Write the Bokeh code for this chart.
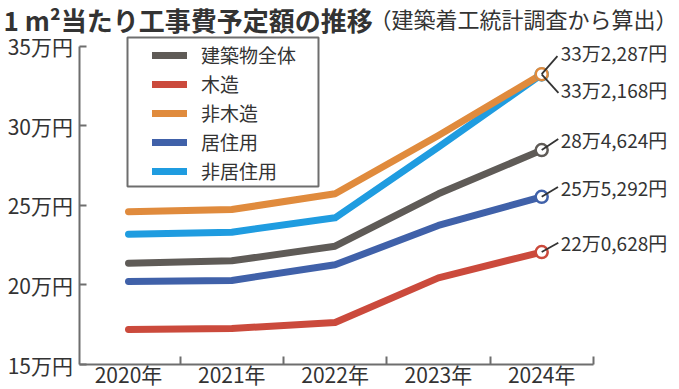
from bokeh.plotting import figure
from bokeh.models import Range1d, FixedTicker, Legend, LegendItem, Label, BoxAnnotation
from bokeh.embed import file_html
from bokeh.resources import INLINE
from bokeh.core.properties import value

# ---- data ----
years = ["2020年", "2021年", "2022年", "2023年", "2024年"]
series_names = ["建築物全体", "木造", "非木造", "居住用", "非居住用"]
zentai = [213600, 215100, 224300, 257200, 284624]
mokuzo = [172000, 172600, 176400, 204400, 220628]
hi_mokuzo = [245900, 247300, 257200, 293800, 332287]
kyoju = [202100, 202800, 212600, 237300, 255292]
hi_kyoju = [231800, 233100, 242100, 286500, 332168]
y_ticks = [150000, 200000, 250000, 300000, 350000]
y_tick_labels = ["15万円", "20万円", "25万円", "30万円", "35万円"]
title_text = "1 m²当たり工事費予定額の推移"
subtitle_text = "（建築着工統計調査から算出）"

# ---- style ----
FONT = "Noto Sans CJK JP"
TXT = "#333333"
AXC = "#6e6e6e"
colors = {"建築物全体": "#5f5b57", "木造": "#cb4a3c", "非木造": "#e08b3d",
          "居住用": "#4061a9", "非居住用": "#1f9ce0"}
values = {"建築物全体": zentai, "木造": mokuzo, "非木造": hi_mokuzo,
          "居住用": kyoju, "非居住用": hi_kyoju}
draw_order = ["木造", "居住用", "建築物全体", "非居住用", "非木造"]
lab_dy = {"非木造": -22, "非居住用": 15, "建築物全体": -11, "居住用": -9, "木造": -10}
ray_ang = {"非木造": 49, "非居住用": -48, "建築物全体": 34, "居住用": 31, "木造": 29}
ray_len = {"非木造": 24, "非居住用": 25, "建築物全体": 20, "居住用": 19, "木造": 19}

W, H = 679, 389
x_px = 103.3          # pixels per year
x0_px = 128           # screen x of first year
x_start = -x0_px / x_px
x_end = x_start + W / x_px
y_base_px = 364       # screen y of 15万
yen_px = 200000 / (364 - 45.5)
y_start = 150000 - (H - y_base_px) * yen_px
y_end = 150000 + y_base_px * yen_px
axis_x = -0.47

p = figure(width=W, height=H,
           x_range=Range1d(x_start, x_end), y_range=Range1d(y_start, y_end),
           output_backend="svg", toolbar_location=None, min_border=0)
p.outline_line_color = None
p.xgrid.visible = False
p.ygrid.visible = False
p.background_fill_color = "white"
p.border_fill_color = "white"

xs = list(range(len(years)))

# axes (drawn inside the frame at fixed locations)
p.xaxis.fixed_location = y_ticks[0]
p.xaxis.ticker = FixedTicker(ticks=xs, minor_ticks=[i + 0.5 for i in xs])
p.xaxis.major_label_overrides = {i: y for i, y in zip(xs, years)}
p.xaxis.bounds = (axis_x, len(years) - 0.5)
p.xaxis.major_tick_in = 0
p.xaxis.major_tick_out = 0
p.xaxis.minor_tick_in = 8
p.xaxis.minor_tick_out = 0
p.xaxis.minor_tick_line_width = 2
p.xaxis.minor_tick_line_color = AXC
p.xaxis.axis_line_width = 2
p.xaxis.axis_line_color = AXC
p.xaxis.major_label_text_font = FONT
p.xaxis.major_label_text_font_size = "21px"
p.xaxis.major_label_text_color = TXT
p.xaxis.major_label_standoff = -6

p.yaxis.fixed_location = axis_x
p.yaxis.ticker = FixedTicker(ticks=y_ticks, minor_ticks=[])
p.yaxis.major_label_overrides = {t: l for t, l in zip(y_ticks, y_tick_labels)}
p.yaxis.bounds = (y_ticks[0], y_ticks[-1])
p.yaxis.major_tick_in = 7
p.yaxis.major_tick_out = 0
p.yaxis.major_tick_line_width = 2
p.yaxis.major_tick_line_color = AXC
p.yaxis.minor_tick_line_color = None
p.yaxis.axis_line_width = 2
p.yaxis.axis_line_color = AXC
p.yaxis.major_label_text_font = FONT
p.yaxis.major_label_text_font_size = "21px"
p.yaxis.major_label_text_color = TXT
p.yaxis.major_label_standoff = 7

# lines
rend = {}
for name in draw_order:
    rend[name] = p.line(x=xs, y=values[name], line_width=7, line_color=colors[name],
                        line_cap="round", line_join="round")

last = xs[-1]
for name in draw_order:
    v = values[name][-1]
    p.scatter(x=[last], y=[v], size=12, fill_color="white",
              line_color=colors[name], line_width=2.5)
for name in draw_order:
    v = values[name][-1]
    p.ray(x=[last], y=[v], length=ray_len[name], length_units="screen",
          angle=ray_ang[name], angle_units="deg", line_color="#333333", line_width=1.8)


def yen(v):
    man, r = divmod(v, 10000)
    return f"{man}万{r // 1000},{r % 1000:03d}円"


for name in draw_order:
    v = values[name][-1]
    p.text(x=[last], y=[v], text=[yen(v)], x_offset=19, y_offset=lab_dy[name],
           text_baseline="middle", text_align="left", text_font=value(FONT),
           text_font_size="19px", text_color=TXT)

# legend frame
p.add_layout(BoxAnnotation(left=127, right=318, top=H - 37, bottom=H - 186,
                           left_units="screen", right_units="screen",
                           top_units="screen", bottom_units="screen",
                           fill_color="white", fill_alpha=1, line_color=AXC,
                           line_alpha=1, line_width=2, line_dash="solid"))

legend = Legend(items=[LegendItem(label=n, renderers=[rend[n]]) for n in series_names],
                location=(152, H - 184))
legend.border_line_color = None
legend.background_fill_alpha = 0
legend.label_text_font = FONT
legend.label_text_font_size = "19px"
legend.label_text_color = TXT
legend.glyph_width = 35
legend.glyph_height = 20
legend.label_height = 20
legend.label_standoff = 14
legend.spacing = 2
legend.padding = 3
legend.margin = 0
p.add_layout(legend)

p.add_layout(Label(x=3, y=H, x_units="screen", y_units="screen", text=title_text,
                   text_font=FONT, text_font_size="26px", text_font_style="bold",
                   text_color=TXT, text_baseline="top"))
p.add_layout(Label(x=369, y=H - 1, x_units="screen", y_units="screen", text=subtitle_text,
                   text_font=FONT, text_font_size="22px",
                   text_color=TXT, text_baseline="top"))

open("out.html", "w").write(file_html(p, INLINE))
